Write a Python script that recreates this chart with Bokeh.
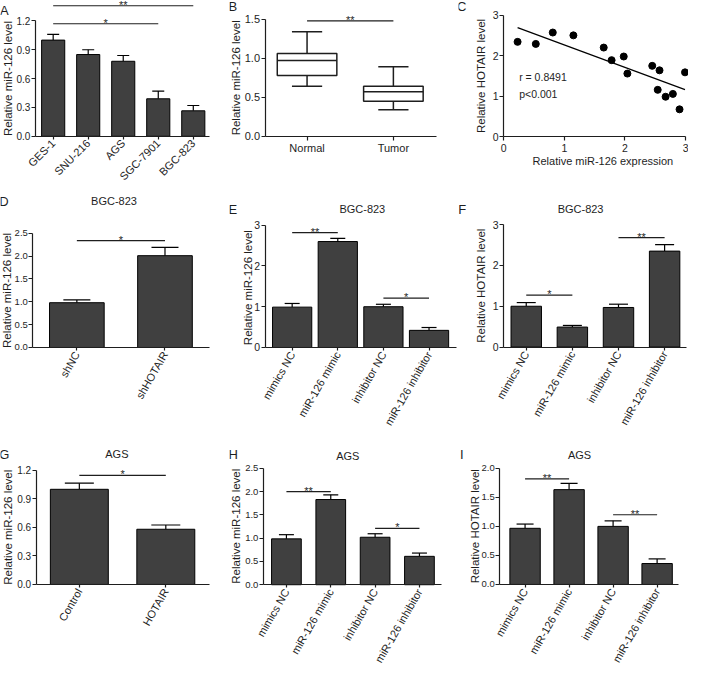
import numpy as np
from math import pi
from bokeh.plotting import figure
from bokeh.models import (Range1d, FixedTicker, PrintfTickFormatter, Label,
                          ColumnDataSource, Whisker, TeeHead)
from bokeh.layouts import column, row
from bokeh.embed import file_html
from bokeh.resources import INLINE

# ---------------- data ----------------
mir_title = "Relative miR-126 level"
hot_title = "Relative HOTAIR level"
treat_cats = ["mimics NC", "miR-126 mimic", "inhibitor NC", "miR-126 inhibitor"]

# A
a_cats = ["GES-1", "SNU-216", "AGS", "SGC-7901", "BGC-823"]
a_vals = [1.00, 0.85, 0.78, 0.39, 0.265]
a_errs = [0.06, 0.05, 0.06, 0.08, 0.055]
a_yticks = [0.0, 0.3, 0.6, 0.9, 1.2]
a_sig_from, a_sig_to = [0, 0], [3, 4]
a_sig_y = [1.17, 1.357]
a_sig_text = ["*", "**"]

# B
b_cats = ["Normal", "Tumor"]
b_low = [0.64, 0.34]
b_q1 = [0.78, 0.45]
b_med = [0.97, 0.57]
b_q3 = [1.06, 0.64]
b_high = [1.34, 0.89]
b_yticks = [0.0, 0.5, 1.0, 1.5]
b_sig_from, b_sig_to, b_sig_y, b_sig_text = [0], [1], [1.48], ["**"]

# C
c_x = [0.23, 0.53, 0.81, 1.15, 1.65, 1.78, 1.98, 2.04, 2.45, 2.57, 2.54, 2.67, 2.79, 2.90, 2.99]
c_y = [2.34, 2.29, 2.57, 2.50, 2.20, 1.89, 1.98, 1.56, 1.75, 1.64, 1.16, 0.99, 1.06, 0.68, 1.59]
c_ticks = [0, 1, 2, 3]
c_stats = ["r = 0.8491", "p<0.001"]
c_xtitle = "Relative miR-126 expression"

# D
d_title = "BGC-823"
d_cats = ["shNC", "shHOTAIR"]
d_vals = [0.98, 2.01]
d_errs = [0.06, 0.18]
d_yticks = [0.0, 0.5, 1.0, 1.5, 2.0, 2.5]
d_sig_from, d_sig_to, d_sig_y, d_sig_text = [0], [1], [2.34], ["*"]

# E
e_title = "BGC-823"
e_vals = [0.99, 2.60, 1.00, 0.42]
e_errs = [0.09, 0.08, 0.06, 0.07]
e_yticks = [0, 1, 2, 3]
e_sig_from, e_sig_to, e_sig_y, e_sig_text = [0, 2], [1, 3], [2.82, 1.21], ["**", "*"]

# F
f_title = "BGC-823"
f_vals = [1.00, 0.49, 0.97, 2.35]
f_errs = [0.09, 0.04, 0.08, 0.16]
f_yticks = [0, 1, 2, 3]
f_sig_from, f_sig_to, f_sig_y, f_sig_text = [0, 2], [1, 3], [1.27, 2.68], ["*", "**"]

# G
g_title = "AGS"
g_cats = ["Control", "HOTAIR"]
g_vals = [1.00, 0.58]
g_errs = [0.064, 0.045]
g_yticks = [0.0, 0.3, 0.6, 0.9, 1.2]
g_sig_from, g_sig_to, g_sig_y, g_sig_text = [0], [1], [1.146], ["*"]

# H
h_title = "AGS"
h_vals = [0.985, 1.83, 1.02, 0.61]
h_errs = [0.09, 0.10, 0.075, 0.07]
h_yticks = [0.0, 0.5, 1.0, 1.5, 2.0, 2.5]
h_sig_from, h_sig_to, h_sig_y, h_sig_text = [0, 2], [1, 3], [2.0, 1.21], ["**", "*"]

# I
i_title = "AGS"
i_vals = [0.967, 1.633, 1.00, 0.36]
i_errs = [0.073, 0.107, 0.095, 0.08]
i_yticks = [0.0, 0.5, 1.0, 1.5, 2.0]
i_sig_from, i_sig_to, i_sig_y, i_sig_text = [0, 2], [1, 3], [1.82, 1.2], ["**", "**"]

# ---------------- layout helpers ----------------
S = 0.97                       # page px per reference px
REF_COLS = [0, 236, 472, 709]
REF_ROWS = [0, 196, 455, 687]
COL_X = [round(S * v) for v in REF_COLS]
ROW_Y = [round(S * v) for v in REF_ROWS]
FONT = "Liberation Sans"
INK = "#1e1e1e"
BAR = "#404040"


class Panel:
    """One panel; its frame covers the whole canvas, axes are pinned inside it."""

    def __init__(self, col, rw, L, R, Y0, YT, vt, xs, xe):
        self.L, self.R, self.Y0 = L, R, Y0
        self.xs, self.xe = xs, xe
        self.pxu = (Y0 - YT) / vt
        c0, c1 = COL_X[col], COL_X[col + 1]
        r0, r1 = ROW_Y[rw], ROW_Y[rw + 1]
        p = figure(width=c1 - c0, height=r1 - r0, output_backend="svg",
                   toolbar_location=None, title_location=None,
                   x_range=Range1d(self.xd(c0 / S), self.xd(c1 / S)),
                   y_range=Range1d(self.yd(r1 / S), self.yd(r0 / S)),
                   min_border=0, min_border_left=0, min_border_right=0,
                   min_border_top=0, min_border_bottom=0)
        p.outline_line_color = None
        p.grid.visible = False
        p.xaxis.axis_label = None
        p.yaxis.axis_label = None
        self.p = p

    def xd(self, rx):
        return self.xs + (rx - self.L) / (self.R - self.L) * (self.xe - self.xs)

    def yd(self, ry):
        return (self.Y0 - ry) / self.pxu

    def text(self, x, y, s, size="11px", align="center", baseline="middle", angle=0.0,
             y_offset=0):
        self.p.add_layout(Label(x=x, y=y, text=s, text_font=FONT, text_font_size=size,
                                text_color=INK, text_align=align, text_baseline=baseline,
                                angle=angle, y_offset=y_offset))

    def text_ref(self, rx, ry, s, **kw):
        self.text(self.xd(rx), self.yd(ry), s, **kw)


def style_axes(pn, yticks, yfmt, xticks, xlabels=None, orient="horizontal", x_out=3,
               xsize="11px", ysize="10px"):
    p = pn.p
    xa, ya = p.xaxis[0], p.yaxis[0]
    for ax in (xa, ya):
        ax.axis_line_color = INK
        ax.axis_line_width = 1.2
        ax.major_tick_line_color = INK
        ax.major_tick_line_width = 1.2
        ax.major_tick_in = 0
        ax.major_tick_out = 4
        ax.minor_tick_line_color = None
        ax.major_label_text_font = FONT
        ax.major_label_text_color = INK
        ax.major_label_standoff = 2
    ya.major_label_standoff = 1
    ya.major_label_text_font_size = ysize
    xa.major_tick_out = x_out
    xa.major_label_text_font_size = xsize
    xa.fixed_location = 0
    xa.bounds = (pn.xs, pn.xe)
    ya.fixed_location = pn.xs
    ya.ticker = FixedTicker(ticks=yticks)
    ya.bounds = (yticks[0], yticks[-1])
    ya.formatter = PrintfTickFormatter(format=yfmt)
    xa.ticker = FixedTicker(ticks=xticks)
    if xlabels is not None:
        xa.major_label_overrides = {t: s for t, s in zip(xticks, xlabels)}
    xa.major_label_orientation = orient


def bars(pn, vals, errs, width, cap):
    p = pn.p
    idx = list(range(len(vals)))
    p.vbar(x=idx, top=vals, bottom=0, width=width, fill_color=BAR,
           line_color="black", line_width=1)
    src = ColumnDataSource(dict(x=idx, lo=vals, hi=[v + e for v, e in zip(vals, errs)]))
    p.add_layout(Whisker(source=src, base="x", lower="lo", upper="hi",
                         dimension="height", line_color="black", line_width=1.2,
                         upper_head=TeeHead(size=cap, line_color="black", line_width=1.2),
                         lower_head=None))


def sig(pn, fr, to, ys, texts):
    pn.p.segment(x0=fr, y0=ys, x1=to, y1=ys, line_color=INK, line_width=1.2)
    for a, b, y, t in zip(fr, to, ys, texts):
        pn.text((a + b) / 2, y, t, baseline="alphabetic", y_offset=1)


def decorate(pn, letter, lxy, ytitle, yxy, title=None, txy=None):
    pn.text_ref(lxy[0], lxy[1], letter, size="13px")
    pn.text_ref(yxy[0], yxy[1], ytitle, size="11.5px", angle=pi / 2)
    if title is not None:
        pn.text_ref(txy[0], txy[1], title, size="11px")


# ---------------- panel A ----------------
A = Panel(0, 0, 36, 215, 140, 21, 1.2, -0.507, 4.45)
bars(A, a_vals, a_errs, 0.66, 12)
sig(A, a_sig_from, a_sig_to, a_sig_y, a_sig_text)
style_axes(A, a_yticks, "%.1f", list(range(len(a_cats))), a_cats, pi / 4)
decorate(A, "A", (4, 10.5), mir_title, (8, 80.5))

# ---------------- panel B ----------------
B = Panel(1, 0, 272.7, 449, 140, 19.3, 1.5, -0.487, 1.494)
pB = B.p
bidx = list(range(len(b_cats)))
bw, cw = 0.69, 0.35
pB.segment(x0=bidx, y0=b_q3, x1=bidx, y1=b_high, line_color=INK, line_width=1.5)
pB.segment(x0=bidx, y0=b_low, x1=bidx, y1=b_q1, line_color=INK, line_width=1.5)
pB.segment(x0=[i - cw / 2 for i in bidx], y0=b_high, x1=[i + cw / 2 for i in bidx], y1=b_high,
           line_color=INK, line_width=1.5)
pB.segment(x0=[i - cw / 2 for i in bidx], y0=b_low, x1=[i + cw / 2 for i in bidx], y1=b_low,
           line_color=INK, line_width=1.5)
pB.vbar(x=bidx, bottom=b_q1, top=b_q3, width=bw, fill_color="white",
        line_color=INK, line_width=1.5)
pB.segment(x0=[i - bw / 2 for i in bidx], y0=b_med, x1=[i + bw / 2 for i in bidx], y1=b_med,
           line_color=INK, line_width=1.5)
sig(B, b_sig_from, b_sig_to, b_sig_y, b_sig_text)
style_axes(B, b_yticks, "%.1f", bidx, b_cats, "horizontal", x_out=4, ysize="11px")
decorate(B, "B", (239.5, 6), mir_title, (243, 79.7))

# ---------------- panel C ----------------
C = Panel(2, 0, 518.7, 706.3, 140.7, 15, 3, 0, 3)
pC = C.p
pC.scatter(c_x, c_y, size=7, fill_color="black", line_color="black")
slope, icpt = np.polyfit(c_x, c_y, 1)
fx = [min(c_x), max(c_x)]
pC.line(fx, [slope * v + icpt for v in fx], line_color="black", line_width=1.2)
style_axes(C, c_ticks, "%d", c_ticks, None, "horizontal", x_out=4, xsize="10.5px",
           ysize="10.5px")
pC.xaxis[0].major_label_standoff = 3
C.text_ref(534.7, 78.7, c_stats[0], size="10.5px", align="left")
C.text_ref(534.7, 96.7, c_stats[1], size="10.5px", align="left")
C.text_ref(621, 165, c_xtitle, size="11px")
decorate(C, "C", (475.5, 6), hot_title, (495, 77.8))

# ---------------- panel D ----------------
D = Panel(0, 1, 33.3, 215, 357.7, 240, 2.5, -0.5, 1.5)
bars(D, d_vals, d_errs, 0.62, 27)
sig(D, d_sig_from, d_sig_to, d_sig_y, d_sig_text)
style_axes(D, d_yticks, "%.1f", list(range(len(d_cats))), d_cats, pi / 3, ysize="9.5px")
decorate(D, "D", (3.5, 207), mir_title, (7, 298.9), d_title, (117, 207))

# ---------------- panel E ----------------
E = Panel(1, 1, 272.7, 470, 357.7, 231.7, 3, -0.595, 3.6)
bars(E, e_vals, e_errs, 0.86, 15)
sig(E, e_sig_from, e_sig_to, e_sig_y, e_sig_text)
style_axes(E, e_yticks, "%d", list(range(len(treat_cats))), treat_cats, pi / 3,
           ysize="10.5px")
decorate(E, "E", (239.5, 215), mir_title, (255, 296), e_title, (373, 215))

# ---------------- panel F ----------------
F = Panel(2, 1, 518.7, 707, 357.3, 231, 3, -0.49, 3.47)
bars(F, f_vals, f_errs, 0.66, 19)
sig(F, f_sig_from, f_sig_to, f_sig_y, f_sig_text)
style_axes(F, f_yticks, "%d", list(range(len(treat_cats))), treat_cats, pi / 3,
           ysize="10.5px")
decorate(F, "F", (476, 215), hot_title, (495, 294), f_title, (598, 215))

# ---------------- panel G ----------------
G = Panel(0, 2, 36.7, 215, 602, 484.3, 1.2, -0.5, 1.5)
bars(G, g_vals, g_errs, 0.67, 29)
sig(G, g_sig_from, g_sig_to, g_sig_y, g_sig_text)
style_axes(G, g_yticks, "%.1f", list(range(len(g_cats))), g_cats, pi / 3)
decorate(G, "G", (4, 468), mir_title, (7.5, 543), g_title, (120, 468))

# ---------------- panel H ----------------
H = Panel(1, 2, 271, 454.3, 602.3, 482.3, 2.5, -0.52, 3.49)
bars(H, h_vals, h_errs, 0.67, 15)
sig(H, h_sig_from, h_sig_to, h_sig_y, h_sig_text)
style_axes(H, h_yticks, "%.1f", list(range(len(treat_cats))), treat_cats, pi / 3,
           ysize="9.5px")
decorate(H, "H", (240, 468), mir_title, (243, 542), h_title, (358, 469.7))

# ---------------- panel I ----------------
I = Panel(2, 2, 514.7, 698.7, 602, 482.3, 2.0, -0.575, 3.48)
bars(I, i_vals, i_errs, 0.69, 17)
sig(I, i_sig_from, i_sig_to, i_sig_y, i_sig_text)
style_axes(I, i_yticks, "%.1f", list(range(len(treat_cats))), treat_cats, pi / 3,
           ysize="9.5px")
decorate(I, "I", (475.5, 468), hot_title, (489, 542), i_title, (597, 468.3))

layout = column(row(A.p, B.p, C.p), row(D.p, E.p, F.p), row(G.p, H.p, I.p))
open("out.html", "w").write(file_html(layout, INLINE, title="Figure"))
